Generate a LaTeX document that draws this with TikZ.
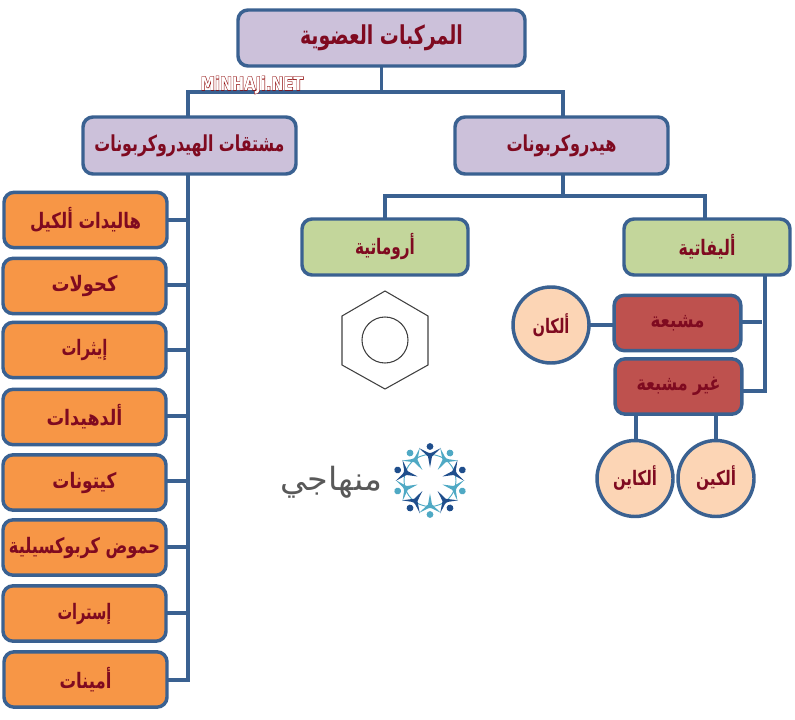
\documentclass[tikz,border=0pt]{standalone}
\usepackage{graphicx}
\usepackage{fontspec}
\TeXXeTstate=1
\newfontfamily\arabicfont[Script=Arabic]{DejaVu Sans}
\newfontfamily\wmfont[UprightFont=* Bold]{DejaVu Sans}
\newfontfamily\wmback[UprightFont=* Bold,FakeBold=5]{DejaVu Sans}
\definecolor{linecol}{HTML}{3A6191}
\definecolor{txtcol}{HTML}{7F0A20}
\definecolor{purplefill}{HTML}{CCC1DA}
\definecolor{greenfill}{HTML}{C3D69B}
\definecolor{redfill}{HTML}{BE514E}
\definecolor{orangefill}{HTML}{F79646}
\definecolor{peachfill}{HTML}{FCD5B5}
\definecolor{logodark}{HTML}{1F4E8C}
\definecolor{logolight}{HTML}{4FA9C4}
\newdimen\pxu \pxu=0.75pt
\newcommand{\ar}[2]{\resizebox{#1\pxu}{\height}{\arabicfont\bfseries #2}}
\tikzset{
  x=0.75pt,y=-0.75pt,
  conn/.style={draw=linecol,line width=2.6pt,line cap=butt},
  boxbase/.style={draw=linecol,line width=2.6pt,rounded corners=7.5pt,text=txtcol,inner sep=0pt,align=center},
  pbox/.style={boxbase,fill=purplefill,font=\fontsize{16.5}{19}\selectfont},
  gbox/.style={boxbase,fill=greenfill,minimum width=124.5pt,minimum height=42pt,font=\fontsize{16}{19}\selectfont},
  rbox/.style={boxbase,fill=redfill,minimum width=95pt,minimum height=41.5pt,font=\fontsize{15.5}{18}\selectfont},
  obox/.style={boxbase,fill=orangefill,minimum width=122.25pt,minimum height=41.5pt,font=\fontsize{16}{19}\selectfont},
  circ/.style={circle,draw=linecol,line width=2.6pt,fill=peachfill,minimum size=57pt,inner sep=0pt,text=txtcol,font=\fontsize{15}{18}\selectfont},
}
\begin{document}
\begin{tikzpicture}
\useasboundingbox (0,0) rectangle (795,720);
% junctions
\coordinate (busA) at (381.5,92);
\coordinate (busB) at (563,196);
\coordinate (spine) at (188,680);
\coordinate (spineB) at (765,391);
\coordinate (capM) at (762,322);
% connectors (under the boxes)
\draw[conn] (381.5,66) -- (busA);
\draw[conn] (188,117) |- (busA) -| (563,117);
\draw[conn] (563,174) -- (busB);
\draw[conn] (385,219) |- (busB) -| (705,219);
\draw[conn] (188,174) -- (spine) -- (167,680);
\foreach \yy in {220,285,350,416,481,547,613} \draw[conn] (166,\yy) -- (188,\yy);
\draw[conn] (765,275) -- (spineB) -- (742,391);
\draw[conn] (741,322) -- (capM);
\draw[conn] (590,325) -- (614,325);
\draw[conn] (636,414) -- (636,440);
\draw[conn] (716,414) -- (716,441);
% top level
\node[pbox,minimum width=215.25pt,minimum height=42pt,font=\fontsize{19.5}{23}\selectfont] (root) at (381.5,38) {\ar{163}{\beginR المركبات العضوية\endR}};
\node[pbox,minimum width=159.75pt,minimum height=42.75pt] (deriv) at (189.5,145.5) {\ar{190}{\beginR مشتقات الهيدروكربونات\endR}};
\node[pbox,minimum width=159.75pt,minimum height=42.75pt] (hydro) at (561.5,145.5) {\ar{110}{\beginR هيدروكربونات\endR}};
\node[gbox] (aliph) at (707,247) {\ar{57}{\beginR أليفاتية\endR}};
\node[gbox] (arom) at (385,247) {\ar{60}{\beginR أروماتية\endR}};
\node[rbox] (sat) at (677.5,323) {\ar{54}{\beginR مشبعة\endR}};
\node[rbox] (unsat) at (678.5,386.5) {\ar{84}{\beginR غير مشبعة\endR}};
\node[circ] (alkane) at (551,325) {\ar{37}{\beginR ألكان\endR}};
\node[circ] (alkyne) at (635,478.5) {\ar{44}{\beginR ألكاين\endR}};
\node[circ] (alkene) at (716,478.5) {\ar{40}{\beginR ألكين\endR}};
% left column
\node[obox] (o1) at (85.5,220) {\ar{111}{\beginR هاليدات ألكيل\endR}};
\node[obox] (o2) at (84.5,286) {\ar{66}{\beginR كحولات\endR}};
\node[obox] (o3) at (84.5,350) {\ar{46}{\beginR إيثرات\endR}};
\node[obox] (o4) at (84.5,417) {\ar{76}{\beginR ألدهيدات\endR}};
\node[obox] (o5) at (84.5,482.5) {\ar{64}{\beginR كيتونات\endR}};
\node[obox] (o6) at (84.5,547.5) {\ar{151}{\beginR حموض كربوكسيلية\endR}};
\node[obox] (o7) at (84.5,613.5) {\ar{54}{\beginR إسترات\endR}};
\node[obox] (o8) at (85.5,679.5) {\ar{52}{\beginR أمينات\endR}};
% benzene
\draw[black!75,line width=0.8pt] (385,291) -- (428,316) -- (428,365) -- (385,389) -- (342,365) -- (342,316) -- cycle;
\draw[black!75,line width=0.8pt] (385,340) circle (23);
% logo
\draw[logolight,line width=0.7pt] (430,480.5) circle (26);
\foreach \i in {0,...,9}{
  \pgfmathsetmacro{\aa}{\i*36}
  \pgfmathtruncatemacro{\pp}{mod(\i,2)}
  \ifnum\pp=0 \def\cc{logodark}\else\def\cc{logolight}\fi
  \begin{scope}[shift={(430,480.5)},rotate=-\aa]
    \fill[\cc] (0,-13) -- (-2,-24) -- (-11,-32.5) -- (-2.2,-28) -- (0,-27.5) -- (2.2,-28) -- (11,-32.5) -- (2,-24) -- cycle;
    \fill[\cc] (0,-34) circle (3.4);
  \end{scope}
}
\node[text=black!65,inner sep=0pt,font=\fontsize{24}{28}\selectfont] (logotext) at (331,482) {\resizebox{76.5pt}{\height}{\arabicfont\beginR منهاجي\endR}};
% watermark
\node[text=red!55!black,inner sep=0pt,font=\fontsize{11}{13}\selectfont] (wmb) at (252,85) {\resizebox{77pt}{10.5pt}{\wmback MiNHAJi.NET}};
\node[text=white,inner sep=0pt,font=\fontsize{11}{13}\selectfont] (wm) at (252,85) {\resizebox{77pt}{10.5pt}{\wmfont MiNHAJi.NET}};
\end{tikzpicture}
\end{document}
